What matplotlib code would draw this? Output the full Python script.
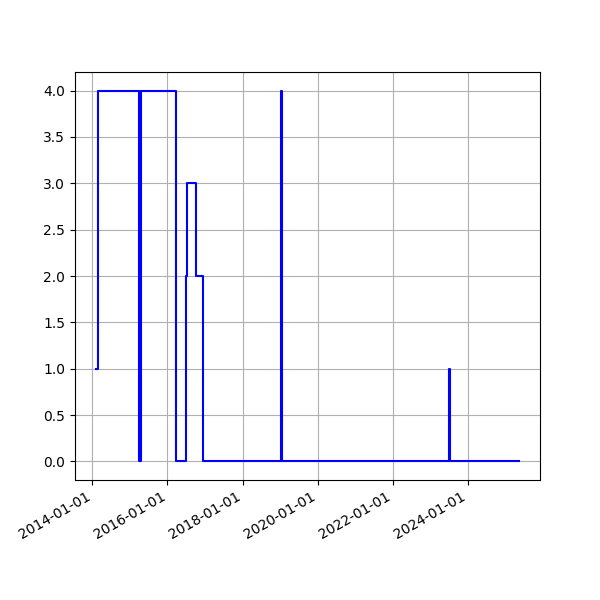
import numpy as np
import matplotlib
matplotlib.use("Agg")
import matplotlib.pyplot as plt
import matplotlib.dates as mdates

# change points of the state series (step, held until the next date)
dates = np.array([
    "2014-02-06", "2014-02-25",
    "2015-03-30", "2015-04-04", "2015-04-09", "2015-04-14",
    "2016-03-23", "2016-06-25", "2016-07-13", "2016-10-06", "2016-12-16",
    "2019-01-08", "2019-01-19",
    "2023-07-03", "2023-07-12",
    "2025-05-10",
], dtype="datetime64[D]")
values = [
    1, 4,
    0, 4, 0, 4,
    0, 2, 3, 2, 0,
    4, 0,
    1, 0,
    0,
]

fig, ax = plt.subplots(figsize=(6, 6), dpi=100)
ax.step(dates, values, where="post", color="b")
ax.xaxis.set_major_locator(mdates.YearLocator(2))
ax.xaxis.set_major_formatter(mdates.DateFormatter("%Y-%m-%d"))
ax.grid(True)
fig.autofmt_xdate()
fig.savefig("out.png")
